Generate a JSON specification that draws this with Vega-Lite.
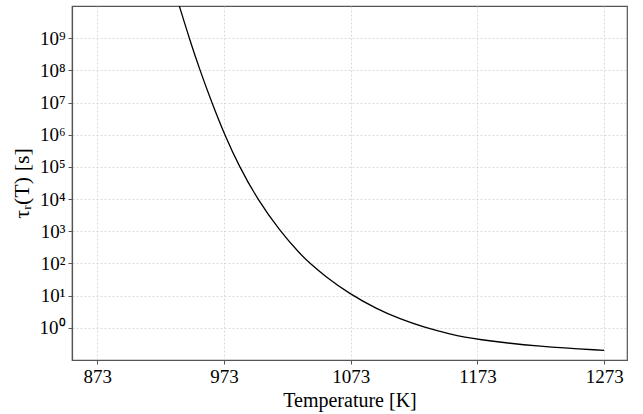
{
  "$schema": "https://vega.github.io/schema/vega-lite/v6.json",
  "width": 555,
  "height": 354,
  "autosize": {"type": "none"},
  "padding": {"left": 72, "top": 6, "right": 16, "bottom": 54},
  "background": "white",
  "config": {
    "view": {"stroke": "#555555", "strokeWidth": 1.2},
    "font": "Liberation Serif",
    "axis": {
      "labelFont": "Liberation Serif",
      "titleFont": "Liberation Serif",
      "labelColor": "black",
      "titleColor": "black",
      "titleFontWeight": "normal",
      "domainColor": "#555555",
      "domainWidth": 1.2,
      "tickColor": "#555555",
      "tickSize": 4,
      "gridColor": "#d0d0d0",
      "gridDash": [2, 2],
      "gridWidth": 0.8
    }
  },
  "data": {
    "values": [
      {"T": 937.7, "tau": 1e10},
      {"T": 945.5, "tau": 1e9},
      {"T": 954.0, "tau": 1e8},
      {"T": 963.3, "tau": 1e7},
      {"T": 973.4, "tau": 1e6},
      {"T": 985.1, "tau": 1e5},
      {"T": 999.3, "tau": 1e4},
      {"T": 1017.2, "tau": 1e3},
      {"T": 1032.9, "tau": 199.5},
      {"T": 1040.3, "tau": 104.7},
      {"T": 1052.7, "tau": 39.8},
      {"T": 1071.9, "tau": 11.48},
      {"T": 1093.5, "tau": 3.85},
      {"T": 1111.9, "tau": 1.87},
      {"T": 1130.3, "tau": 1.057},
      {"T": 1151.4, "tau": 0.634},
      {"T": 1171, "tau": 0.4375},
      {"T": 1223, "tau": 0.257},
      {"T": 1273, "tau": 0.1995}
    ]
  },
  "mark": {"type": "line", "color": "black", "strokeWidth": 1.3, "interpolate": "basis", "clip": true},
  "encoding": {
    "x": {
      "field": "T",
      "type": "quantitative",
      "scale": {"domain": [853, 1291], "nice": false, "zero": false},
      "axis": {
        "values": [873, 973, 1073, 1173, 1273],
        "format": "d",
        "title": "Temperature [K]",
        "labelFontSize": 19,
        "titleFontSize": 20,
        "labelPadding": 3,
        "titlePadding": 4
      }
    },
    "y": {
      "field": "tau",
      "type": "quantitative",
      "scale": {"type": "log", "domain": [0.1, 1e10], "nice": false},
      "axis": {
        "values": [1, 10, 100, 1000, 10000, 100000, 1000000, 10000000, 100000000, 1000000000],
        "labelExpr": "'10' + ['⁰','¹','²','³','⁴','⁵','⁶','⁷','⁸','⁹'][round(log(datum.value)/LN10)]",
        "title": "τᵣ(T) [s]",
        "labelFontSize": 19,
        "titleFontSize": 22,
        "labelPadding": 3,
        "titlePadding": 6
      }
    }
  }
}
